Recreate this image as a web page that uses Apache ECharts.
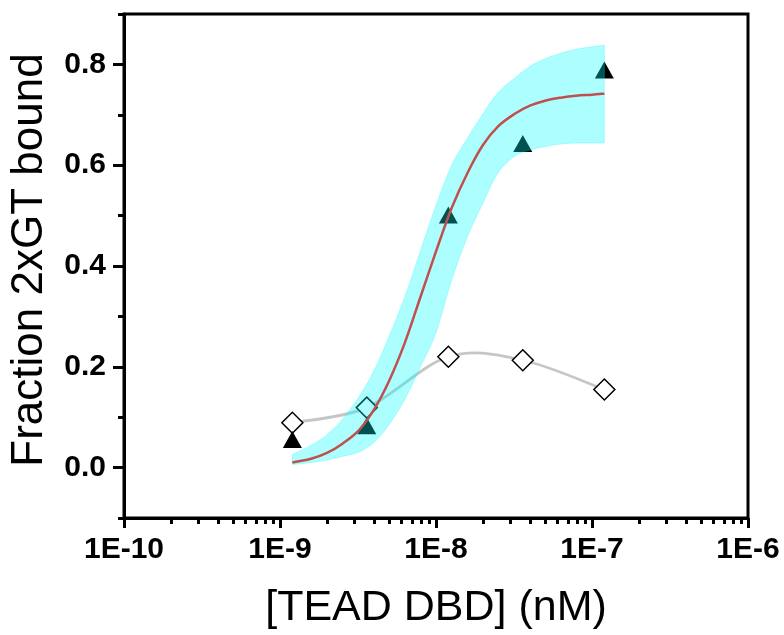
<!DOCTYPE html>
<html>
<head>
<meta charset="utf-8">
<script src="https://cdn.jsdelivr.net/npm/echarts@6/dist/echarts.min.js"></script>
<style>
html,body{margin:0;padding:0;background:#fff;}
#chart{width:784px;height:635px;}
</style>
</head>
<body>
<div id="chart"></div>
<script>
// ---- data ----
const xTicks = [1e-10, 1e-9, 1e-8, 1e-7, 1e-6];
const xTickLabels = ['1E-10', '1E-9', '1E-8', '1E-7', '1E-6'];
const xMinorTicks = [2e-10,3e-10,4e-10,5e-10,6e-10,7e-10,8e-10,9e-10,
  2e-9,3e-9,4e-9,5e-9,6e-9,7e-9,8e-9,9e-9,
  2e-8,3e-8,4e-8,5e-8,6e-8,7e-8,8e-8,9e-8,
  2e-7,3e-7,4e-7,5e-7,6e-7,7e-7,8e-7,9e-7];
const yTicks = [0, 0.2, 0.4, 0.6, 0.8];
const yTickLabels = ['0.0', '0.2', '0.4', '0.6', '0.8'];
const yMinorTicks = [-0.1, 0.1, 0.3, 0.5, 0.7, 0.9];

const conc = [1.2e-9, 3.6e-9, 1.2e-8, 3.6e-8, 1.2e-7];
const triangles = [0.056, 0.083, 0.501, 0.643, 0.789];
const diamonds = [0.089, 0.119, 0.220, 0.213, 0.155];

const fitX = [1.2e-9, 1.6e-9, 2.0e-9, 2.5e-9, 3.2e-9, 4.0e-9, 5.0e-9, 6.3e-9, 7.9e-9, 1.0e-8,
  1.26e-8, 1.6e-8, 2.0e-8, 2.5e-8, 3.2e-8, 4.0e-8, 5.0e-8, 6.3e-8, 7.9e-8, 1.0e-7, 1.2e-7];
const fitY = [0.010, 0.018, 0.029, 0.047, 0.074, 0.115, 0.172, 0.247, 0.336, 0.429,
  0.515, 0.586, 0.640, 0.677, 0.702, 0.718, 0.728, 0.734, 0.738, 0.740, 0.742];
const bandHigh = [0.026, 0.045, 0.065, 0.095, 0.140, 0.192, 0.260, 0.338, 0.428, 0.520,
  0.600, 0.655, 0.702, 0.744, 0.773, 0.796, 0.811, 0.822, 0.830, 0.835, 0.838];
const bandLow = [0.006, 0.010, 0.015, 0.022, 0.031, 0.050, 0.085, 0.135, 0.198, 0.268,
  0.372, 0.460, 0.525, 0.585, 0.618, 0.630, 0.637, 0.642, 0.644, 0.644, 0.644];

const xTitle = '[TEAD DBD] (nM)';
const yTitle = 'Fraction 2xGT bound';

// ---- chart ----
const FONT = "'Liberation Sans', Arial, Helvetica, sans-serif";
const chart = echarts.init(document.getElementById('chart'), null, {renderer: 'canvas'});

const pairs = (xs, ys) => xs.map((x, i) => [x, ys[i]]);

// Catmull-Rom spline through pixel points -> SVG path commands
function splinePath(pts, start) {
  let d = start ? ('M' + pts[0][0] + ' ' + pts[0][1]) : ('L' + pts[0][0] + ' ' + pts[0][1]);
  for (let i = 0; i < pts.length - 1; i++) {
    const p0 = pts[Math.max(i - 1, 0)], p1 = pts[i], p2 = pts[i + 1], p3 = pts[Math.min(i + 2, pts.length - 1)];
    const c1 = [p1[0] + (p2[0] - p0[0]) / 6, p1[1] + (p2[1] - p0[1]) / 6];
    const c2 = [p2[0] - (p3[0] - p1[0]) / 6, p2[1] - (p3[1] - p1[1]) / 6];
    d += ' C' + c1[0] + ' ' + c1[1] + ' ' + c2[0] + ' ' + c2[1] + ' ' + p2[0] + ' ' + p2[1];
  }
  return d;
}

const option = {
  animation: false,
  backgroundColor: '#fff',
  grid: {left: 122, right: 36, top: 14, bottom: 115, show: true,
         borderColor: '#000', borderWidth: 3, backgroundColor: 'transparent'},
  xAxis: [
    {
      type: 'log', logBase: 10, min: 1e-10, max: 1e-6, position: 'bottom',
      axisLine: {show: true, onZero: false, lineStyle: {color: '#000', width: 3}},
      axisTick: {show: true, inside: false, length: 10, customValues: xTicks,
                 lineStyle: {color: '#000', width: 3}},
      axisLabel: {show: true, customValues: xTicks, margin: 17,
                  formatter: v => xTickLabels[xTicks.findIndex(t => Math.abs(Math.log10(t) - Math.log10(v)) < 1e-6)],
                  color: '#000', fontFamily: FONT, fontWeight: 'bold', fontSize: 30},
      splitLine: {show: false}, minorSplitLine: {show: false},
      name: xTitle, nameLocation: 'middle', nameGap: 69,
      nameTextStyle: {color: '#000', fontFamily: FONT, fontSize: 43}
    },
    {
      type: 'log', logBase: 10, min: 1e-10, max: 1e-6, position: 'bottom',
      axisLine: {show: false, onZero: false},
      axisTick: {show: true, inside: false, length: 6, customValues: xMinorTicks,
                 lineStyle: {color: '#000', width: 3}},
      axisLabel: {show: false}, splitLine: {show: false}
    }
  ],
  yAxis: [
    {
      type: 'value', min: -0.1, max: 0.9, position: 'left',
      axisLine: {show: true, onZero: false, lineStyle: {color: '#000', width: 3}},
      axisTick: {show: true, inside: false, length: 11, customValues: yTicks,
                 lineStyle: {color: '#000', width: 3}},
      axisLabel: {show: true, customValues: yTicks, margin: 18,
                  formatter: v => yTickLabels[yTicks.findIndex(t => Math.abs(t - v) < 1e-6)],
                  color: '#000', fontFamily: FONT, fontWeight: 'bold', fontSize: 30},
      splitLine: {show: false},
      name: yTitle, nameLocation: 'middle', nameGap: 72,
      nameTextStyle: {color: '#000', fontFamily: FONT, fontSize: 44, padding: [0, 0, 0, 12]}
    },
    {
      type: 'value', min: -0.1, max: 0.9, position: 'left',
      axisLine: {show: false, onZero: false},
      axisTick: {show: true, inside: false, length: 6, customValues: yMinorTicks,
                 lineStyle: {color: '#000', width: 3}},
      axisLabel: {show: false}, splitLine: {show: false}
    }
  ],
  series: [
    {
      name: 'controlLine', type: 'custom', xAxisIndex: 0, yAxisIndex: 0, z: 2,
      data: [[conc[0], diamonds[0]]],
      renderItem: function (params, api) {
        const pts = conc.map((x, i) => api.coord([x, diamonds[i]]));
        return {
          type: 'path',
          shape: {pathData: splinePath(pts, true)},
          style: {fill: null, stroke: '#c6c6c6', lineWidth: 2.8}
        };
      }
    },
    {
      name: 'control', type: 'scatter', xAxisIndex: 0, yAxisIndex: 0, z: 3,
      data: pairs(conc, diamonds),
      symbol: 'diamond', symbolSize: 21,
      itemStyle: {color: '#fff', borderColor: '#000', borderWidth: 1.5, opacity: 1}
    },
    {
      name: 'data', type: 'scatter', xAxisIndex: 0, yAxisIndex: 0, z: 3,
      data: pairs(conc, triangles), symbol: 'triangle', symbolSize: [19, 17],
      itemStyle: {color: '#000', opacity: 1}
    },
    {
      name: 'band', type: 'custom', xAxisIndex: 0, yAxisIndex: 0, z: 4,
      data: [[fitX[0], bandLow[0]]],
      renderItem: function (params, api) {
        const up = fitX.map((x, i) => api.coord([x, bandHigh[i]]));
        const lo = fitX.map((x, i) => api.coord([x, bandLow[i]])).reverse();
        const d = splinePath(up, true) + ' ' + splinePath(lo, false) + ' Z';
        return {
          type: 'path',
          shape: {pathData: d},
          style: {fill: 'rgba(0,255,255,0.32)', stroke: 'rgba(0,240,255,0.25)', lineWidth: 1}
        };
      }
    },
    {
      name: 'fit', type: 'custom', xAxisIndex: 0, yAxisIndex: 0, z: 5,
      data: [[fitX[0], fitY[0]]],
      renderItem: function (params, api) {
        const pts = fitX.map((x, i) => api.coord([x, fitY[i]]));
        return {
          type: 'path',
          shape: {pathData: splinePath(pts, true)},
          style: {fill: null, stroke: '#c0504d', lineWidth: 2.5}
        };
      }
    }
  ]
};
chart.setOption(option);
</script>
</body>
</html>
